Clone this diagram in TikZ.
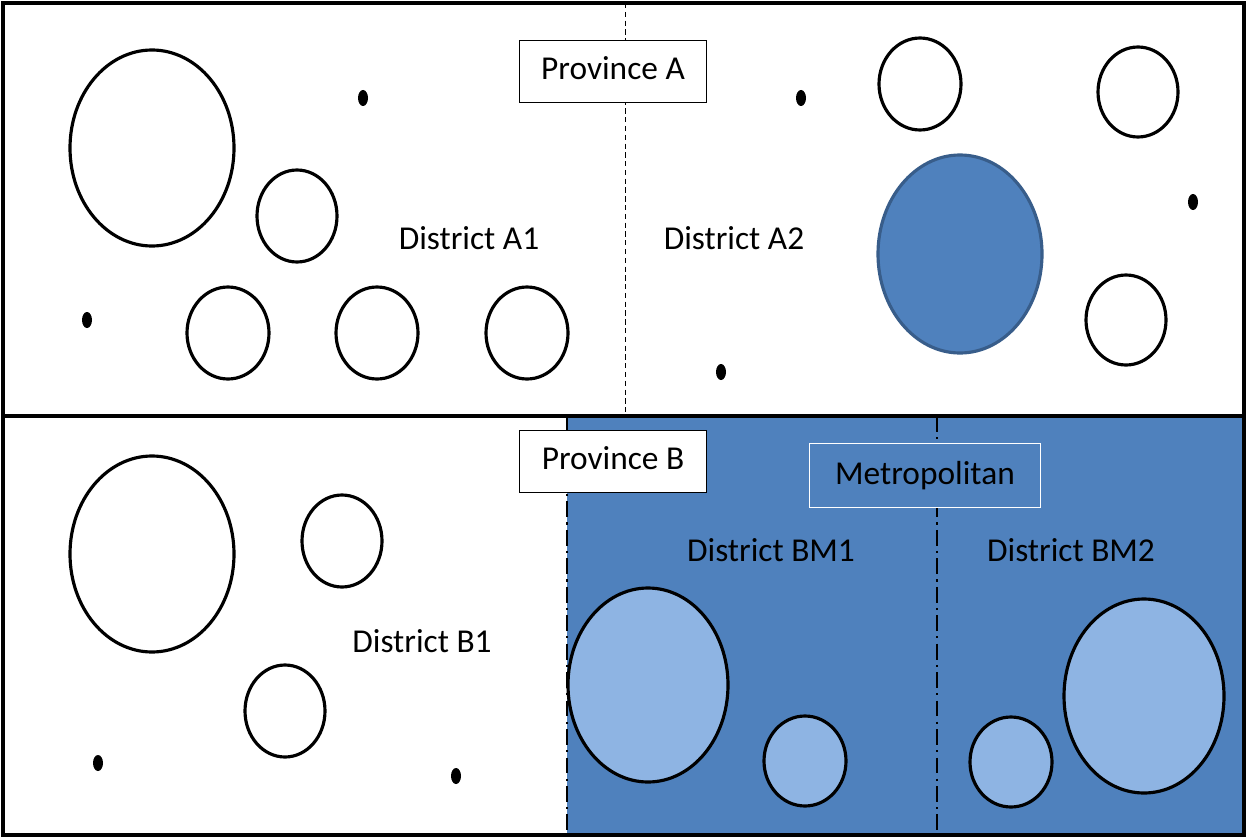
\documentclass[tikz,border=0pt]{standalone}
\usepackage{fontspec}
\setmainfont{Carlito}
\definecolor{metroblue}{HTML}{4F81BD}
\definecolor{rimblue}{HTML}{385D8A}
\definecolor{lightblue}{HTML}{8EB4E3}
\begin{document}
\begin{tikzpicture}[x=0.02cm,y=-0.02cm,
  town/.style={draw=black,line width=1.8pt},
  village/.style={fill=black},
  label/.style={font=\fontsize{19}{22}\selectfont,inner sep=0pt},
  namebox/.style={draw=black,thin,fill=white,minimum width=187*0.02cm,
    minimum height=62*0.02cm,font=\fontsize{19}{22}\selectfont,
    text depth=0.6ex}]

\useasboundingbox (0,0) rectangle (1247,838);

\fill[metroblue] (567,416) rectangle (1244,835); % metropolitan area

\begin{scope}[thin] % district borders
  \draw[dash pattern=on 3pt off 2pt] (625,3) -- (625,416);
  \draw[dash pattern=on 9pt off 3pt on 1.2pt off 3pt,line width=0.9pt]
    (567,416) -- (567,835);
  \draw[dash pattern=on 9pt off 3pt on 1.2pt off 3pt,line width=0.9pt]
    (937,416) -- (937,835);
\end{scope}

\begin{scope}[line width=2pt] % province frame
  \draw (3,416) -- (1244,416);
  \draw (3,3) rectangle (1244,835);
\end{scope}

\begin{scope} % towns, white
  \foreach \cx/\cy/\rx/\ry in {152/148/82/98, 297/216/40/46, 228/333/41/46,
      377/333/41/46, 527/333/41/46, 920/84/41/46, 1138/92/40/45,
      1126/320/40/45, 152/554/82/98, 342/541/40/46, 285/711/40/46}
    \draw[town] (\cx,\cy) ellipse [x radius=\rx,y radius=\ry];
\end{scope}

\begin{scope} % towns, blue
  \draw[town,draw=rimblue,fill=metroblue] (960,254) ellipse [x radius=82,y radius=99];
  \foreach \cx/\cy/\rx/\ry in {648/685/80/97, 805/761/41/45,
      1011/762/41/45, 1144/696/80/97}
    \draw[town,fill=lightblue] (\cx,\cy) ellipse [x radius=\rx,y radius=\ry];
\end{scope}

\begin{scope} % villages
  \foreach \cx/\cy in {363/98, 87/320, 801/98, 1193/202, 721/372,
      98/763, 456/776}
    \fill[village] (\cx,\cy) ellipse [x radius=5,y radius=8];
\end{scope}

\begin{scope} % names
  \node[namebox] (provA) at (613,71) {Province A\hspace{8pt}};
  \node[namebox] (provB) at (613,461) {Province B\hspace{8pt}};
  \node[namebox,draw=white,fill=metroblue,minimum width=231*0.02cm,
    minimum height=64*0.02cm] (metro) at (925,475) {Metropolitan\hspace{14pt}};
  \node[label] (distA1) at (469,238) {District A1};
  \node[label] (distA2) at (734,238) {District A2};
  \node[label] (distB1) at (422,641) {District B1};
  \node[label] (distBM1) at (771,550) {District BM1};
  \node[label] (distBM2) at (1071,550) {District BM2};
\end{scope}

\end{tikzpicture}
\end{document}
